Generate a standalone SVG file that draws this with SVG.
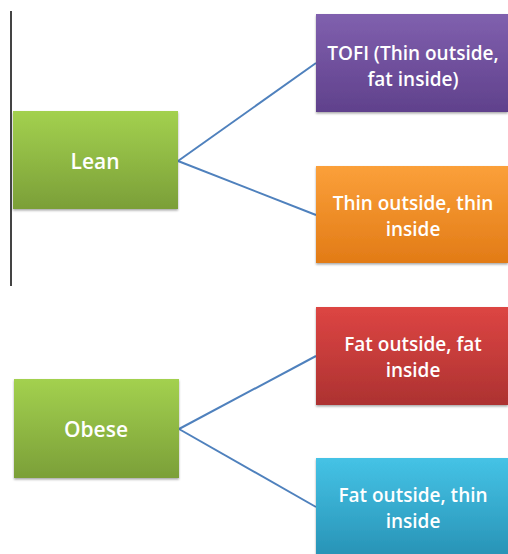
<svg xmlns="http://www.w3.org/2000/svg" width="508" height="554" viewBox="0 0 508 554">
<defs>
<linearGradient id="gGreen" x1="0" y1="0" x2="0" y2="1"><stop offset="0" stop-color="#a3d14f"/><stop offset="1" stop-color="#7b9f38"/></linearGradient>
<linearGradient id="gPurple" x1="0" y1="0" x2="0" y2="1"><stop offset="0" stop-color="#8060ae"/><stop offset="1" stop-color="#60418c"/></linearGradient>
<linearGradient id="gOrange" x1="0" y1="0" x2="0" y2="1"><stop offset="0" stop-color="#fba03a"/><stop offset="1" stop-color="#e27b16"/></linearGradient>
<linearGradient id="gRed" x1="0" y1="0" x2="0" y2="1"><stop offset="0" stop-color="#dd4543"/><stop offset="1" stop-color="#ad3231"/></linearGradient>
<linearGradient id="gCyan" x1="0" y1="0" x2="0" y2="1"><stop offset="0" stop-color="#45c3e6"/><stop offset="1" stop-color="#2893b6"/></linearGradient>
<filter id="sh" x="-10%" y="-10%" width="120%" height="130%"><feDropShadow dx="0" dy="1.5" stdDeviation="1.2" flood-color="#000" flood-opacity="0.35"/></filter>
</defs>
<style>
.box{filter:url(#sh)}
.t{font-family:"Open Sans","Liberation Sans",sans-serif;font-weight:600;fill:#fff;text-anchor:middle;font-size:19px}
.tl{font-size:21px}
.c{stroke:#4f81bd;stroke-width:2;fill:none}
</style>
<rect width="508" height="554" fill="#fff"/>
<line x1="11" y1="11" x2="11" y2="286" stroke="#444" stroke-width="2"/>
<g id="connectors">
<line class="c" x1="178" y1="161" x2="316" y2="63"/>
<line class="c" x1="178" y1="161" x2="316" y2="215"/>
<line class="c" x1="179" y1="429" x2="316" y2="356"/>
<line class="c" x1="179" y1="429" x2="316" y2="507"/>
</g>
<g id="lean"><rect class="box" x="13" y="111" width="165" height="98" fill="url(#gGreen)"/><text class="t tl" x="95" y="169">Lean</text></g>
<g id="obese"><rect class="box" x="14" y="379" width="165" height="99" fill="url(#gGreen)"/><text class="t tl" x="96" y="437">Obese</text></g>
<g id="tofi"><rect class="box" x="316" y="14" width="192" height="98" fill="url(#gPurple)"/><text class="t" x="413" y="60">TOFI (Thin outside,</text><text class="t" x="413" y="86">fat inside)</text></g>
<g id="thin"><rect class="box" x="316" y="166" width="192" height="97" fill="url(#gOrange)"/><text class="t" x="413" y="210">Thin outside, thin</text><text class="t" x="413" y="236">inside</text></g>
<g id="fofi"><rect class="box" x="316" y="307" width="192" height="98" fill="url(#gRed)"/><text class="t" x="413" y="351">Fat outside, fat</text><text class="t" x="413" y="377">inside</text></g>
<g id="foti"><rect class="box" x="316" y="458" width="192" height="98" fill="url(#gCyan)"/><text class="t" x="413" y="502">Fat outside, thin</text><text class="t" x="413" y="528">inside</text></g>
</svg>
